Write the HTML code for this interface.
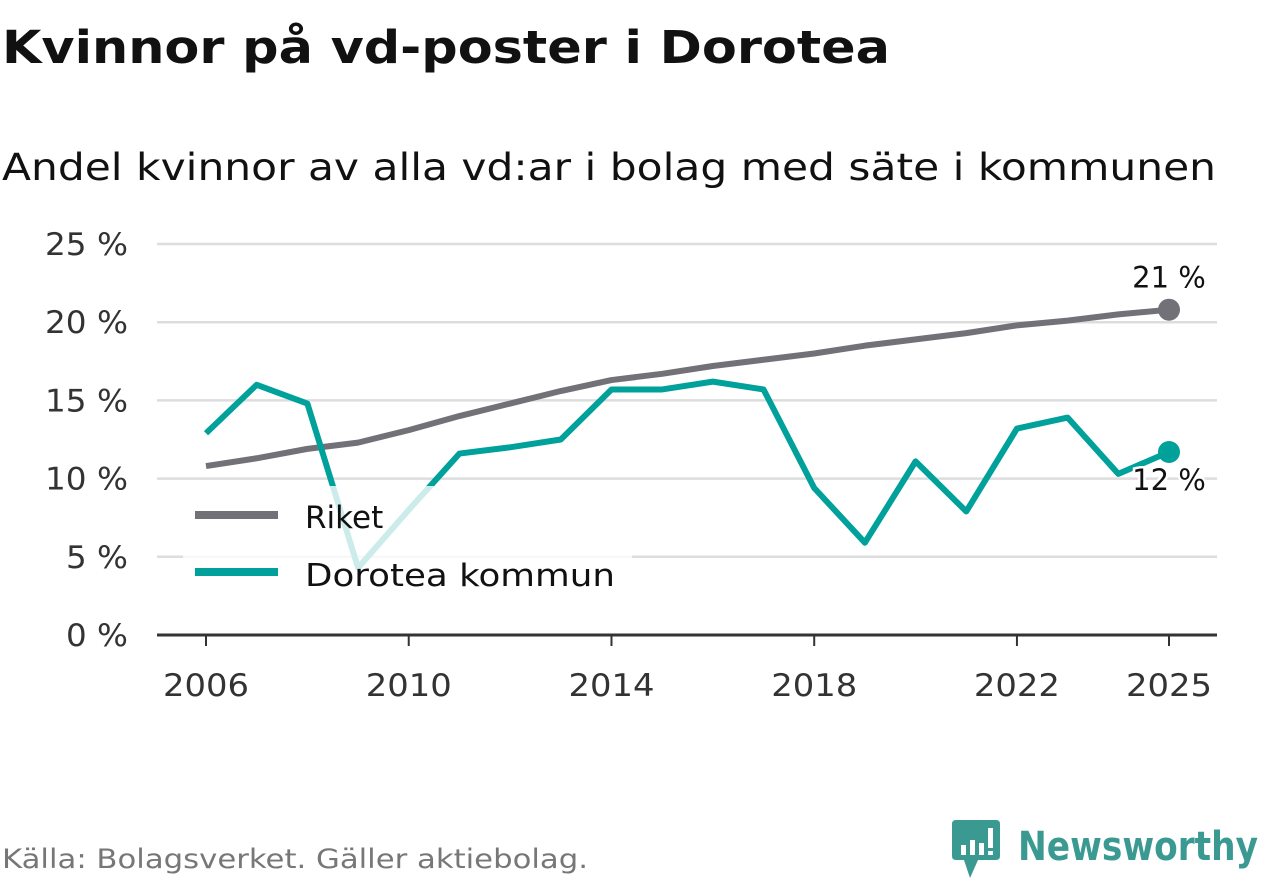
<!DOCTYPE html>
<html><head><meta charset="utf-8"><style>
body{margin:0;background:#fff;}
svg text{font-family:"DejaVu Sans","Liberation Sans",sans-serif;}
</style></head><body>
<svg id="c" width="1262" height="879" viewBox="0 0 1262 879" xmlns="http://www.w3.org/2000/svg">
<text x="2" y="63" font-size="45" font-weight="bold" fill="#111" textLength="888" lengthAdjust="spacingAndGlyphs">Kvinnor på vd-poster i Dorotea</text>
<text x="2" y="180" font-size="37" fill="#111" textLength="1214" lengthAdjust="spacingAndGlyphs">Andel kvinnor av alla vd:ar i bolag med säte i kommunen</text>
<g id="grid"></g><g id="lines"></g>
<text x="2" y="868" font-size="27" fill="#777" textLength="586" lengthAdjust="spacingAndGlyphs">Källa: Bolagsverket. Gäller aktiebolag.</text>
<g>
<path d="M956 820h40q4 0 4 4v32q0 4-4 4h-18l-8 18l-6-18h-8q-4 0-4-4v-32q0-4 4-4z" fill="#3a9a92"/>
<rect x="961" y="845" width="5" height="10" fill="#fff"/><rect x="970" y="840" width="5" height="15" fill="#fff"/><rect x="979" y="843" width="5" height="12" fill="#fff"/><rect x="988" y="828" width="5" height="20" fill="#fff"/><rect x="988" y="851" width="5" height="4" fill="#fff"/>
<text x="1018" y="860" font-size="40" font-weight="bold" fill="#3a9a92" textLength="240" lengthAdjust="spacingAndGlyphs">Newsworthy</text>
</g>
</svg>
<script>
const years=[2006,2007,2008,2009,2010,2011,2012,2013,2014,2015,2016,2017,2018,2019,2020,2021,2022,2023,2024,2025];
const riket=[10.8,11.3,11.9,12.3,13.1,14.0,14.8,15.6,16.3,16.7,17.2,17.6,18.0,18.5,18.9,19.3,19.8,20.1,20.5,20.8];
const dorotea=[12.9,16.0,14.8,4.3,8.0,11.6,12.0,12.5,15.7,15.7,16.2,15.7,9.4,5.9,11.1,7.9,13.2,13.9,10.3,11.7];
const yTicks=[0,5,10,15,20,25];
const xTicks=[2006,2010,2014,2018,2022,2025];
const NS="http://www.w3.org/2000/svg";
const X=v=>206+(v-2006)*(1169-206)/19;
const Y=v=>635-v*15.64;
function mk(tag,attrs,parent,txt){const e=document.createElementNS(NS,tag);for(const k in attrs)e.setAttribute(k,attrs[k]);if(txt!==undefined)e.textContent=txt;parent.appendChild(e);return e;}
const g=document.getElementById('grid'),L=document.getElementById('lines');
yTicks.forEach(t=>{
 const l=mk('line',{x1:157,x2:1217,y1:Y(t),y2:Y(t),stroke:t===0?'#333':'#ddd','stroke-width':t===0?3:2.5},g);
 
 
 const tx=mk('text',{x:128,y:Y(t)+11,'font-size':31,fill:'#333','text-anchor':'end',textLength:t<10?62:83,lengthAdjust:'spacingAndGlyphs'},g,t+' %');
 
 
});
xTicks.forEach(t=>{
 const l=mk('line',{x1:X(t),x2:X(t),y1:635,y2:646,stroke:'#333','stroke-width':2},g);
 
 
 const tx=mk('text',{x:X(t),y:696,'font-size':31,fill:'#333','text-anchor':'middle',textLength:86,lengthAdjust:'spacingAndGlyphs'},g,String(t));
 
 
});
function line(vals,col,name){
 const p=mk('polyline',{points:vals.map((v,i)=>X(years[i])+','+Y(v)).join(' '),fill:'none',stroke:col,'stroke-width':6,'stroke-linejoin':'round'},L);
 
 
 const n=vals.length-1;
 const c=mk('circle',{cx:X(years[n]),cy:Y(vals[n]),r:11,fill:col},L);
 
 
}
line(riket,'#727178','riket-line');
line(dorotea,'#00a19a','dorotea-line');
const lr=riket[riket.length-1],ld=dorotea[dorotea.length-1];
const t1=mk('text',{x:1169,y:Y(lr)-22,'font-size':29,fill:'#111','text-anchor':'middle'},L,Math.round(lr)+' %');


const t2=mk('text',{x:1169,y:Y(ld)+38,'font-size':29,fill:'#111','text-anchor':'middle',stroke:'#fff','stroke-width':5,'paint-order':'stroke'},L,Math.round(ld)+' %');


const lg=mk('g',{},L);


mk('rect',{x:183,y:486,width:449,height:112,fill:'#fff','fill-opacity':0.8},lg);
mk('line',{x1:195,x2:278,y1:515,y2:515,stroke:'#727178','stroke-width':8},lg);
mk('line',{x1:195,x2:278,y1:572,y2:572,stroke:'#00a19a','stroke-width':8},lg);
const e1=mk('text',{x:305,y:528,'font-size':31,fill:'#111'},lg,'Riket');


const e2=mk('text',{x:305,y:586,'font-size':31,fill:'#111',textLength:310,lengthAdjust:'spacingAndGlyphs'},lg,'Dorotea kommun');


</script>
</body></html>
